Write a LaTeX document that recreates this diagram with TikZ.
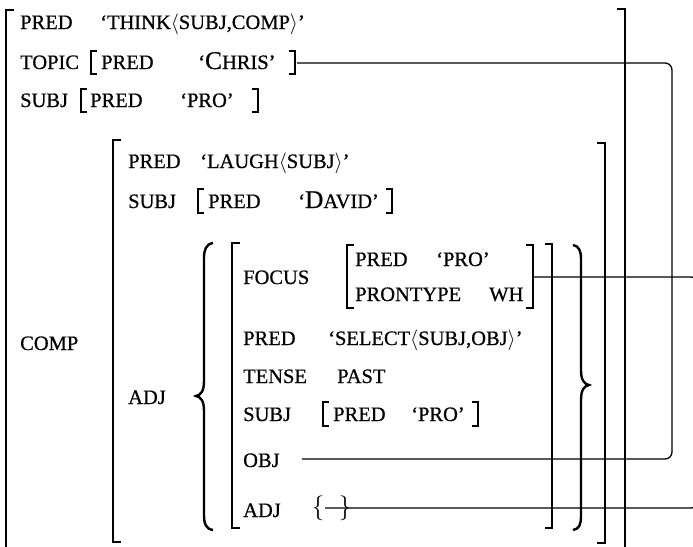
\documentclass[tikz,border=0pt]{standalone}
\usepackage{fontspec}
\setmainfont{Liberation Serif}[FakeBold=0.6]
\newcommand{\Bg}[1]{{\fontsize{25.5}{29}\selectfont #1}}
\tikzset{
  lab/.style={anchor=base west, inner sep=0pt, font=\fontsize{20.5}{24}\selectfont},
  sbr/.style={inner sep=0pt, font=\fontsize{26}{30}\selectfont},
  brk/.style={line width=1.5pt, line join=miter},
  bbrk/.style={line width=2pt, line join=miter},
  obrk/.style={line width=2.6pt, line join=miter},
  brace/.style={line width=2.4pt},
  conn/.style={line width=1.3pt, rounded corners=7pt},
}
\begin{document}
\begin{tikzpicture}[x=1pt,y=-1pt]
\useasboundingbox (0,0) rectangle (693,546);
\clip (0,0) rectangle (693,546);

% outer f-structure
\node[lab] (p1) at (20,29) {PRED};
\node[lab] (v1) at (100,29) {‘THINK$\langle$SUBJ,COMP$\rangle$’};
\node[lab] (topic) at (20,69) {TOPIC};
\node[lab] (tp) at (101,69) {PRED};
\node[lab] (tv) at (198,69) {‘\Bg{C}HRIS’};
\node[lab] (subjA) at (20,107) {SUBJ};
\node[lab] (sp) at (90,107) {PRED};
\node[lab] (sv) at (180,107) {‘PRO’};
\node[lab] (comp) at (20,350) {COMP};

% comp
\node[lab] (cp) at (128,168) {PRED};
\node[lab] (cv) at (200,168) {‘LAUGH$\langle$SUBJ$\rangle$’};
\node[lab] (cs) at (128,208) {SUBJ};
\node[lab] (csp) at (208,208) {PRED};
\node[lab] (csv) at (298,208) {‘\Bg{D}AVID’};
\node[lab] (cadj) at (128,404) {ADJ};

% adjunct member
\node[lab] (foc) at (243,284) {FOCUS};
\node[lab] (fp) at (355,266) {PRED};
\node[lab] (fv) at (436,266) {‘PRO’};
\node[lab] (fpt) at (355,301) {PRONTYPE};
\node[lab] (fwh) at (489,301) {WH};
\node[lab] (mp) at (243,345) {PRED};
\node[lab] (mv) at (328,345) {‘SELECT$\langle$SUBJ,OBJ$\rangle$’};
\node[lab] (mt) at (243,383) {TENSE};
\node[lab] (mtv) at (337,383) {PAST};
\node[lab] (ms) at (243,421) {SUBJ};
\node[lab] (msp) at (333,421) {PRED};
\node[lab] (msv) at (411,421) {‘PRO’};
\node[lab] (mo) at (243,467) {OBJ};
\node[lab] (ma) at (243,517) {ADJ};
\node[sbr] (lbr) at (318,508) {$\big\{$};
\node[sbr] (rbr) at (345,508) {$\big\}$};

% brackets
\draw[obrk] (14,10) -- (6,10) -- (6,560);
\draw[obrk] (617,9) -- (625,9) -- (625,560);
\draw[bbrk] (121,140) -- (113,140) -- (113,542) -- (121,542);
\draw[bbrk] (597,143) -- (605,143) -- (605,543) -- (597,543);
\draw[bbrk] (240,243) -- (232,243) -- (232,528) -- (240,528);
\draw[bbrk] (545,244) -- (552,244) -- (552,528) -- (545,528);
\draw[brk] (354,245) -- (347,245) -- (347,308) -- (354,308);
\draw[brk] (526,245) -- (533,245) -- (533,308) -- (526,308);
\draw[brk] (97,51) -- (91,51) -- (91,74) -- (97,74);
\draw[brk] (289,51) -- (295,51) -- (295,74) -- (289,74);
\draw[brk] (87,89) -- (81,89) -- (81,112) -- (87,112);
\draw[brk] (252,89) -- (258,89) -- (258,112) -- (252,112);
\draw[brk] (204,189) -- (198,189) -- (198,213) -- (204,213);
\draw[brk] (386,189) -- (392,189) -- (392,213) -- (386,213);
\draw[brk] (329,402) -- (323,402) -- (323,426) -- (329,426);
\draw[brk] (472,402) -- (478,402) -- (478,426) -- (472,426);

% set braces
\draw[brace] (213,243) .. controls (206,244) and (204,250) .. (204,258) -- (204,381)
  .. controls (204,391) and (201,395) .. (196,396)
  .. controls (201,397) and (204,401) .. (204,411) -- (204,515)
  .. controls (204,524) and (206,529) .. (213,530);
\draw[brace] (573,245) .. controls (579,246) and (581,251) .. (581,259) -- (581,370)
  .. controls (581,380) and (584,384) .. (589,385)
  .. controls (584,386) and (581,390) .. (581,400) -- (581,516)
  .. controls (581,525) and (579,529) .. (573,530);

% connectors
\coordinate (tEnd) at (297,63);
\coordinate (oEnd) at (302,459);
\coordinate (rxA) at (672,0);
\draw[conn] (tEnd) -| (rxA |- oEnd) -- (oEnd);
\coordinate (fEnd) at (534,277);
\coordinate (aEnd) at (325,508);
\coordinate (rxB) at (698,0);
\draw[conn] (fEnd) -| (rxB |- aEnd) -- (aEnd);
\end{tikzpicture}
\end{document}
